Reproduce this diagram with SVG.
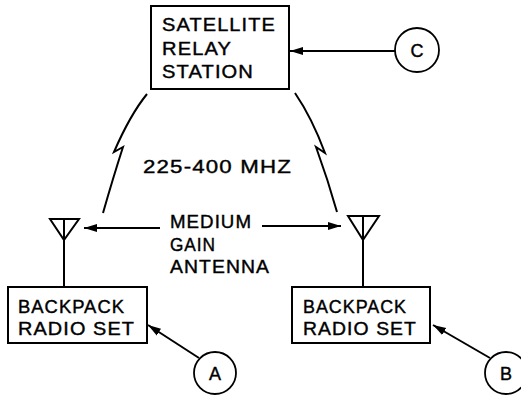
<svg xmlns="http://www.w3.org/2000/svg" width="521" height="396" viewBox="0 0 521 396">
<style>
.b{fill:#fff;stroke:#000;stroke-width:2}
.t{font-family:"Liberation Sans",Arial,sans-serif;font-size:18px;fill:#000;stroke:#000;stroke-width:0.4;letter-spacing:1px}
.c{fill:#fff;stroke:#000;stroke-width:1.8}
.l{fill:none;stroke:#000;stroke-width:2;stroke-linejoin:miter}
</style>
<defs>
<marker id="ah" markerUnits="userSpaceOnUse" markerWidth="14" markerHeight="10" refX="13" refY="5" orient="auto">
<path d="M0,1 L13,5 L0,9 Z" fill="#000"/>
</marker>
</defs>
<rect width="521" height="396" fill="#fff"/>
<g id="connectors">
<path class="l" d="M147,94 Q130,115 114,152 L123,147 Q113,178 103,213"/>
<path class="l" d="M295,93 Q312,118 325,153 L316,147 Q328,180 337,212"/>
<line class="l" x1="395" y1="51" x2="290" y2="51" marker-end="url(#ah)"/>
<line class="l" x1="160" y1="228" x2="84" y2="228" marker-end="url(#ah)"/>
<line class="l" x1="262" y1="226" x2="341" y2="226" marker-end="url(#ah)"/>
<line class="l" x1="199" y1="358" x2="148" y2="325" marker-end="url(#ah)"/>
<line class="l" x1="490" y1="358" x2="433" y2="325" marker-end="url(#ah)"/>
</g>
<g id="satellite">
<rect class="b" x="151" y="6" width="138" height="83"/>
<text class="t" x="162" y="31" textLength="114" lengthAdjust="spacingAndGlyphs">SATELLITE</text>
<text class="t" x="162" y="55" textLength="70" lengthAdjust="spacingAndGlyphs">RELAY</text>
<text class="t" x="162" y="78" textLength="92" lengthAdjust="spacingAndGlyphs">STATION</text>
</g>
<g id="freq">
<text class="t" x="143" y="173" textLength="149" lengthAdjust="spacingAndGlyphs" style="font-size:19px">225-400 MHZ</text>
</g>
<g id="antenna-label">
<text class="t" x="170" y="228" textLength="82" lengthAdjust="spacingAndGlyphs">MEDIUM</text>
<text class="t" x="170" y="251" textLength="46" lengthAdjust="spacingAndGlyphs">GAIN</text>
<text class="t" x="170" y="273" textLength="100" lengthAdjust="spacingAndGlyphs">ANTENNA</text>
</g>
<g id="antenna-left">
<polygon class="l" points="50,219 79,219 64,240"/>
<line class="l" x1="64" y1="219" x2="64" y2="287"/>
</g>
<g id="antenna-right">
<polygon class="l" points="348,216 379,216 363,240"/>
<line class="l" x1="363" y1="216" x2="363" y2="287"/>
</g>
<g id="radio-left">
<rect class="b" x="8" y="287" width="139" height="56"/>
<text class="t" x="18" y="313" textLength="107" lengthAdjust="spacingAndGlyphs">BACKPACK</text>
<text class="t" x="18" y="335" textLength="117" lengthAdjust="spacingAndGlyphs">RADIO SET</text>
</g>
<g id="radio-right">
<rect class="b" x="292" y="287" width="138" height="56"/>
<text class="t" x="303" y="313" textLength="104" lengthAdjust="spacingAndGlyphs">BACKPACK</text>
<text class="t" x="303" y="335" textLength="114" lengthAdjust="spacingAndGlyphs">RADIO SET</text>
</g>
<g id="circle-c">
<circle class="c" cx="417" cy="50" r="22"/>
<text class="t" x="417" y="57" text-anchor="middle" style="letter-spacing:0">C</text>
</g>
<g id="circle-a">
<circle class="c" cx="215" cy="373" r="21"/>
<text class="t" x="215" y="380" text-anchor="middle" style="letter-spacing:0">A</text>
</g>
<g id="circle-b">
<circle class="c" cx="506" cy="373" r="21"/>
<text class="t" x="506" y="380" text-anchor="middle" style="letter-spacing:0">B</text>
</g>
</svg>
